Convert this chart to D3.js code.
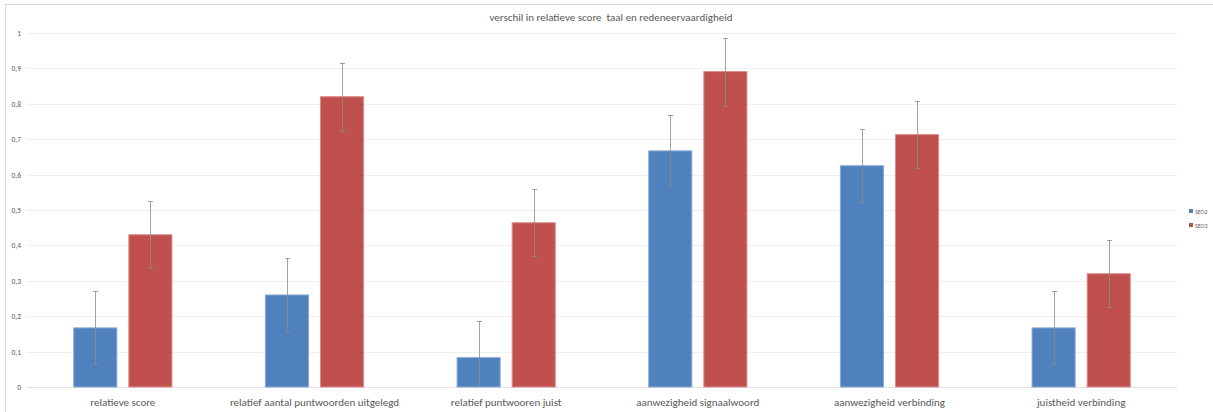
<!DOCTYPE html>
<html>
<head>
<meta charset="utf-8">
<script src="https://cdn.jsdelivr.net/npm/d3@7"></script>
<style>
    body { margin: 0; background: #fff; }
    svg { display: block; font-family: Carlito, "Liberation Sans", "Open Sans", sans-serif; }
</style>
</head>
<body>
<div id="chart"></div>
<script>
// data
let categories = ["relatieve score", "relatief aantal puntwoorden uitgelegd", "relatief puntwooren juist",
    "aanwezigheid signaalwoord", "aanwezigheid verbinding", "juistheid verbinding"]
let seriesNames = ["SEO2", "SEO3"]
let seo2Values = [0.167, 0.26, 0.083, 0.667, 0.625, 0.167]
let seo3Values = [0.43, 0.82, 0.464, 0.891, 0.713, 0.32]
let seo2Errors = [0.103, 0.104, 0.104, 0.102, 0.103, 0.103]
let seo3Errors = [0.095, 0.096, 0.095, 0.096, 0.095, 0.095]
let yTicks = [0, 0.1, 0.2, 0.3, 0.4, 0.5, 0.6, 0.7, 0.8, 0.9, 1]
let colors = ["#4F81BD", "#C0504D"]

let width = 1213, height = 412
let plot = {left: 27, right: 1177, top: 33, bottom: 387}

let svg = d3.select("#chart").append("svg")
    .attr("width", width)
    .attr("height", height)

// chart frame
svg.append("rect")
    .attr("x", 5.5).attr("y", 4.5)
    .attr("width", width).attr("height", height)
    .attr("fill", "none")
    .attr("stroke", "#d9d9d9")

svg.append("text")
    .attr("x", 611).attr("y", 21)
    .attr("text-anchor", "middle")
    .attr("font-size", 11)
    .attr("fill", "#595959")
    .style("white-space", "pre")
    .text("verschil in relatieve score  taal en redeneervaardigheid")

let y = d3.scaleLinear()
    .domain([0, 1])
    .range([plot.bottom, plot.top])
    .clamp(true)

let x0 = d3.scaleBand()
    .domain(categories)
    .range([plot.left, plot.right])

let x1 = d3.scaleBand()
    .domain(seriesNames)
    .range([0, x0.bandwidth()])
    .paddingInner(0.218)
    .paddingOuter(0.848)

// gridlines
svg.append("g")
    .selectAll("line")
    .data(yTicks)
    .enter().append("line")
    .attr("x1", plot.left).attr("x2", plot.right)
    .attr("y1", d => Math.round(y(d)) + 0.5)
    .attr("y2", d => Math.round(y(d)) + 0.5)
    .attr("stroke", d => d === 0 ? "#e3e3e3" : "#efefef")

// y axis labels
let fmt = d => d3.format("~g")(d).replace(".", ",")
svg.append("g")
    .selectAll("text")
    .data(yTicks)
    .enter().append("text")
    .attr("x", 21)
    .attr("y", d => y(d) + 3)
    .attr("text-anchor", "end")
    .attr("font-size", 7.5)
    .attr("fill", "#595959")
    .text(fmt)

// build rows
let rows = []
categories.forEach(function (c, i) {
    rows.push({cat: c, series: "SEO2", value: seo2Values[i], err: seo2Errors[i], color: colors[0]})
    rows.push({cat: c, series: "SEO3", value: seo3Values[i], err: seo3Errors[i], color: colors[1]})
})

// bars
svg.append("g")
    .selectAll("rect")
    .data(rows)
    .enter().append("rect")
    .attr("x", d => x0(d.cat) + x1(d.series))
    .attr("y", d => y(d.value))
    .attr("width", x1.bandwidth())
    .attr("height", d => y(0) - y(d.value))
    .attr("fill", d => d.color)
    .attr("stroke", d => d.series === "SEO2" ? "#8aaad6" : "#dc8c8a")
    .attr("stroke-width", 1)

// error bars (clipped to the plot area like in the original)
let cx = d => Math.round(x0(d.cat) + x1(d.series) + x1.bandwidth() / 2)
let eb = svg.append("g")
    .selectAll("g")
    .data(rows)
    .enter().append("g")
    .attr("stroke", "#8c8c8c")
    .attr("stroke-opacity", 0.8)
eb.append("line")
    .attr("x1", d => cx(d) + 0.5)
    .attr("x2", d => cx(d) + 0.5)
    .attr("y1", d => y(d.value - d.err))
    .attr("y2", d => y(d.value + d.err))
eb.selectAll(".cap")
    .data(d => [d.value - d.err, d.value + d.err].filter(v => v >= 0).map(v => ({v: v, d: d})))
    .enter().append("line")
    .attr("class", "cap")
    .attr("x1", e => cx(e.d) - 2)
    .attr("x2", e => cx(e.d) + 3)
    .attr("y1", e => Math.round(y(e.v)) + 0.5)
    .attr("y2", e => Math.round(y(e.v)) + 0.5)

// category labels
svg.append("g")
    .selectAll("text")
    .data(categories)
    .enter().append("text")
    .attr("x", d => x0(d) + x0.bandwidth() / 2)
    .attr("y", 406)
    .attr("text-anchor", "middle")
    .attr("font-size", 11)
    .attr("fill", "#595959")
    .text(d => d)

// legend
let legend = svg.append("g")
    .selectAll("g")
    .data(seriesNames)
    .enter().append("g")
    .attr("transform", (d, i) => `translate(1189, ${209 + i * 14})`)
legend.append("rect")
    .attr("width", 4).attr("height", 4)
    .attr("fill", (d, i) => colors[i])
legend.append("text")
    .attr("x", 6).attr("y", 4.5)
    .attr("font-size", 6)
    .attr("fill", "#595959")
    .text(d => d)
</script>
</body>
</html>
